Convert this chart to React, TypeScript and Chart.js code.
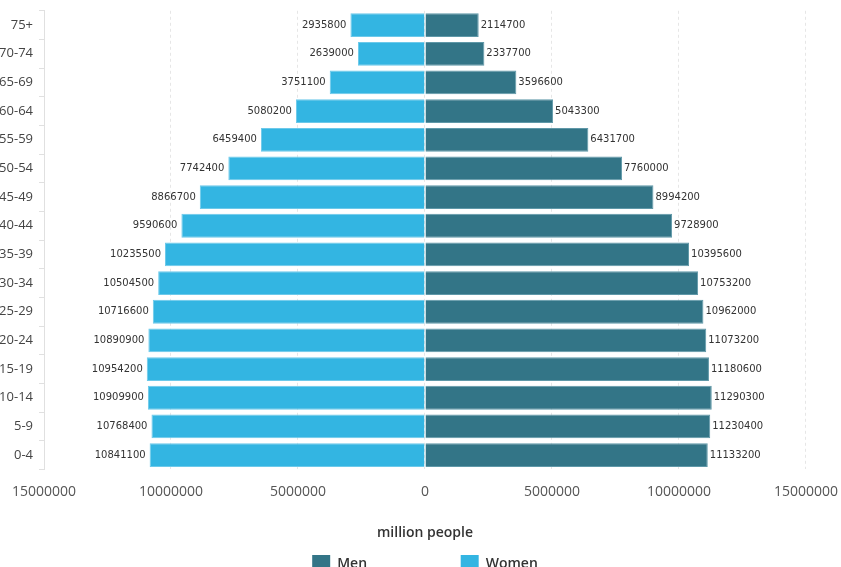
import React, { useEffect, useRef } from "react";
import { Chart, registerables } from "chart.js";

Chart.register(...registerables);

const ageGroups = ["75+", "70-74", "65-69", "60-64", "55-59", "50-54", "45-49", "40-44", "35-39", "30-34", "25-29", "20-24", "15-19", "10-14", "5-9", "0-4"];
const menValues = [2114700, 2337700, 3596600, 5043300, 6431700, 7760000, 8994200, 9728900, 10395600, 10753200, 10962000, 11073200, 11180600, 11290300, 11230400, 11133200];
const womenValues = [2935800, 2639000, 3751100, 5080200, 6459400, 7742400, 8866700, 9590600, 10235500, 10504500, 10716600, 10890900, 10954200, 10909900, 10768400, 10841100];
const axisTitle = "million people";
const seriesNames = ["Men", "Women"];

const valueLabels = {
  id: "valueLabels",
  afterDatasetsDraw(chart: any) {
    const ctx = chart.ctx;
    ctx.save();
    ctx.font = '10px "DejaVu Sans"';
    ctx.fillStyle = "#333";
    ctx.textBaseline = "middle";
    chart.data.datasets.forEach((ds: any, di: number) => {
      const meta = chart.getDatasetMeta(di);
      meta.data.forEach((bar: any, i: number) => {
        const v = ds.data[i];
        if (v < 0) {
          ctx.textAlign = "right";
          ctx.fillText(String(-v), bar.x - 4, bar.y);
        } else {
          ctx.textAlign = "left";
          ctx.fillText(String(v), bar.x + 2, bar.y);
        }
      });
    });
    ctx.restore();
  },
};

export default function App() {
  const ref = useRef<HTMLCanvasElement>(null);
  useEffect(() => {
    if (!ref.current) return;
    Chart.defaults.font.family = '"Open Sans", sans-serif';
    const chart = new Chart(ref.current, {
      type: "bar",
      data: {
        labels: ageGroups,
        datasets: [
          {
            label: seriesNames[0],
            data: menValues,
            backgroundColor: "#337587",
            borderColor: "#5f98a8",
            borderWidth: 1,
            categoryPercentage: 1,
            barPercentage: 0.83,
          },
          {
            label: seriesNames[1],
            data: womenValues.map((v) => -v),
            backgroundColor: "#33b5e2",
            borderColor: "#6cc9ea",
            borderWidth: 1,
            categoryPercentage: 1,
            barPercentage: 0.83,
          },
        ],
      },
      options: {
        indexAxis: "y",
        animation: false,
        responsive: false,
        devicePixelRatio: 1,
        layout: { padding: { top: 8, left: 0, right: 0, bottom: 0 } },
        scales: {
          x: {
            stacked: true,
            min: -15000000,
            max: 15000000,
            ticks: {
              stepSize: 5000000,
              color: "#555",
              font: { size: 14 },
              padding: 14,
              callback: (v: any) => String(Math.abs(Number(v))),
            },
            grid: {
              color: "#e6e6e6",
              drawTicks: false,
            },
            border: { display: false, dash: [3, 3] },
            title: {
              display: true,
              text: axisTitle,
              color: "#333",
              font: { size: 14, weight: "600" },
              padding: { top: 10, bottom: 4 },
            },
          },
          y: {
            stacked: true,
            afterFit: (scale: any) => {
              scale.width = 64;
            },
            ticks: { color: "#444", font: { size: 13 }, padding: 6 },
            grid: { drawOnChartArea: false, tickLength: 5, color: "#e0e0e0" },
            border: { display: true, color: "#e0e0e0" },
          },
        },
        plugins: {
          legend: {
            position: "bottom",
            fullSize: false,
            labels: {
              boxWidth: 18,
              boxHeight: 18,
              color: "#333",
              font: { size: 14, weight: "600" },
              generateLabels: (ch: any) => {
                const base = Chart.defaults.plugins.legend.labels.generateLabels(ch);
                return base.map((it: any, i: number) => ({
                  ...it,
                  text: i === 0 ? it.text + "\u00a0".repeat(23) : it.text,
                  lineWidth: 0,
                }));
              },
            },
          },
          tooltip: { enabled: false },
        },
      } as any,
      plugins: [valueLabels],
    });
    return () => chart.destroy();
  }, []);
  return (
    <div style={{ position: "fixed", left: 0, top: 0, width: 841, height: 567, overflow: "hidden", background: "#fff" }}>
      <div style={{ position: "absolute", left: -20, top: -3 }}>
        <canvas ref={ref} width={872} height={586} style={{ display: "block" }} />
      </div>
    </div>
  );
}
